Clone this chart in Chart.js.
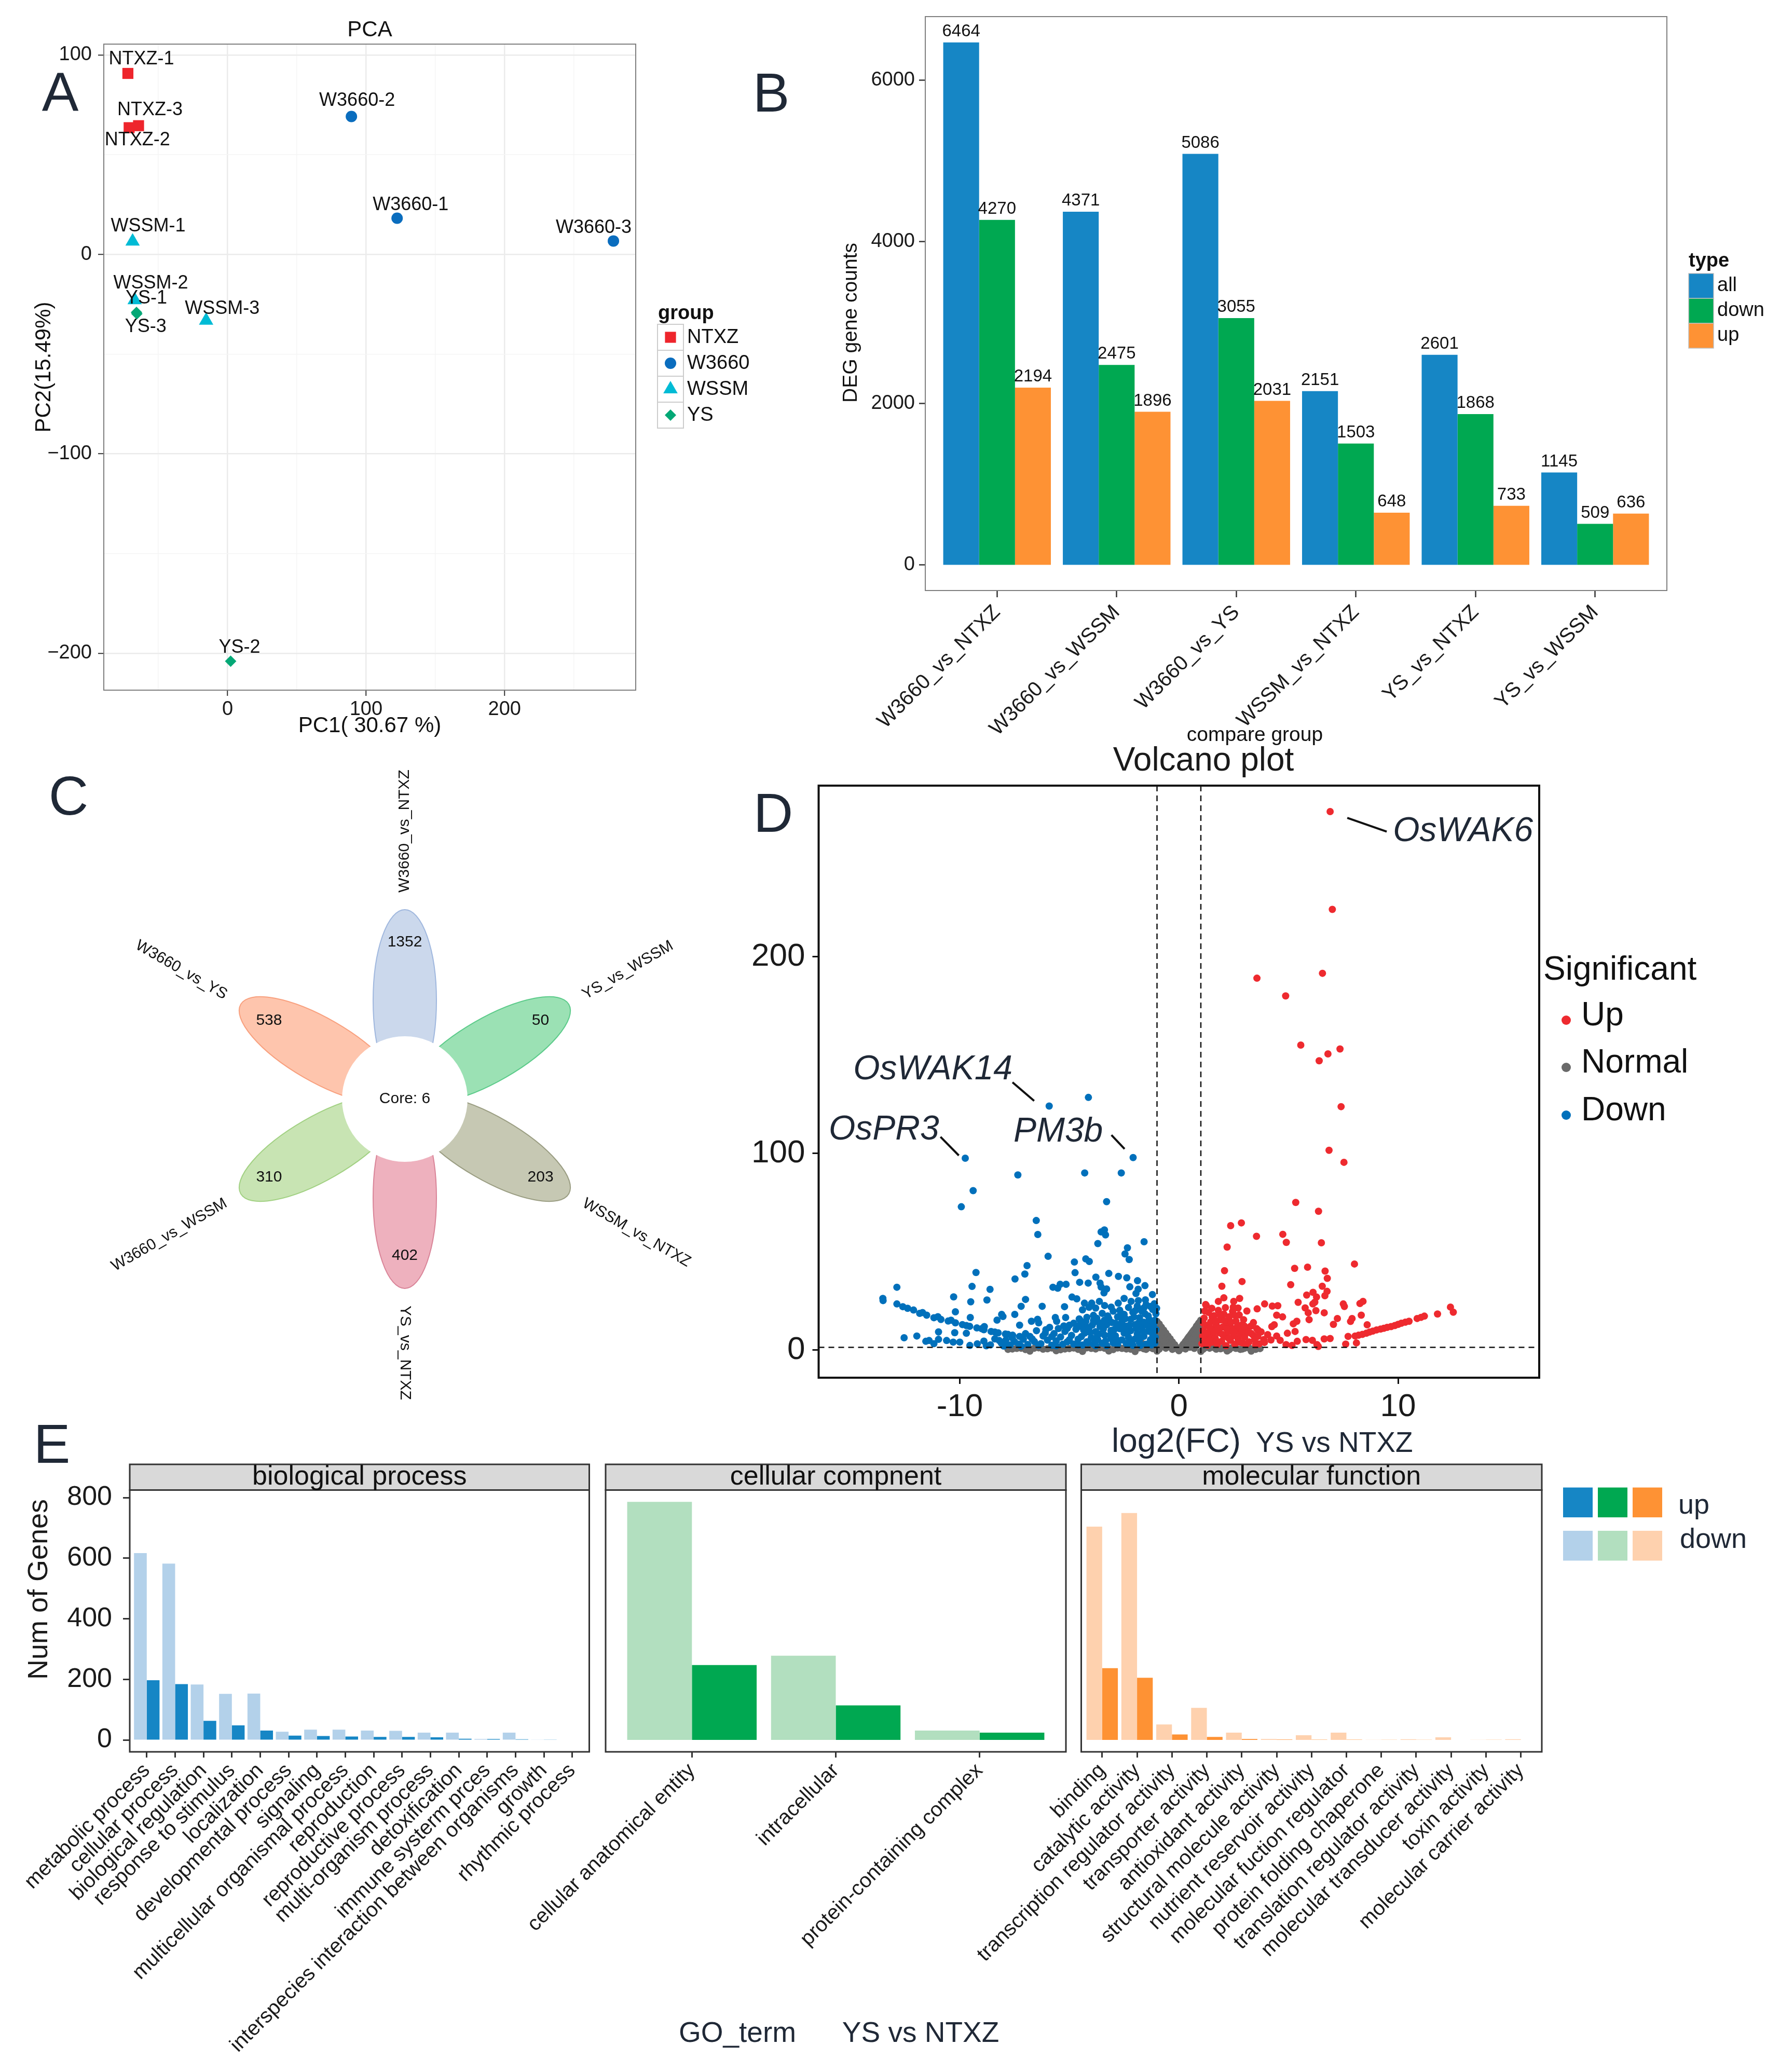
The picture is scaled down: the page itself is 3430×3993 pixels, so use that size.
<!DOCTYPE html>
<html>
<head>
<meta charset="utf-8">
<title>DEG overview</title>
<script src="https://cdn.jsdelivr.net/npm/chart.js@4.4.1/dist/chart.umd.min.js"></script>
<style>
  html, body { margin: 0; padding: 0; background: #fff; }
  #page { position: relative; width: 3430px; height: 3993px; overflow: hidden; background: #fff; }
  #page canvas { position: absolute; }
  .letter { position: absolute; font: 106px "Liberation Sans", Arial, sans-serif; color: #1f2836; line-height: 1; transform: translate(-50%, -50%); }
</style>
</head>
<body>
<div id="page">
  <div class="letter" style="left:116px;top:176px">A</div>
  <div class="letter" style="left:1486px;top:178px">B</div>
  <div class="letter" style="left:132px;top:1533px">C</div>
  <div class="letter" style="left:1490px;top:1566px">D</div>
  <div class="letter" style="left:100px;top:2782px">E</div>
</div>
<script>
// ---------------- data ----------------

// A: PCA
const pcaSamples = ['NTXZ-1', 'NTXZ-2', 'NTXZ-3', 'W3660-1', 'W3660-2', 'W3660-3', 'WSSM-1', 'WSSM-2', 'WSSM-3', 'YS-1', 'YS-2', 'YS-3'];
const pcaSampleGroup = ['NTXZ', 'NTXZ', 'NTXZ', 'W3660', 'W3660', 'W3660', 'WSSM', 'WSSM', 'WSSM', 'YS', 'YS', 'YS'];
const pc1 = [-72.0, -71.1, -64.3, 122.4, 89.4, 278.6, -68.6, -67.1, -15.5, -65.8, 2.2, -65.5];
const pc2 = [90.7, 63.5, 64.5, 18.1, 69.1, 6.7, 6.5, -22.9, -33.2, -29.1, -204.0, -29.8];
const pcaGroups = ['NTXZ', 'W3660', 'WSSM', 'YS'];
const pcaTicksX = [0, 100, 200];
const pcaTicksY = [-200, -100, 0, 100];
const pcaGridX = [-50, 0, 50, 100, 150, 200, 250];
const pcaGridY = [-200, -150, -100, -50, 0, 50, 100];

// B: DEG counts
const compareGroups = ['W3660_vs_NTXZ', 'W3660_vs_WSSM', 'W3660_vs_YS', 'WSSM_vs_NTXZ', 'YS_vs_NTXZ', 'YS_vs_WSSM'];
const degAll = [6464, 4371, 5086, 2151, 2601, 1145];
const degDown = [4270, 2475, 3055, 1503, 1868, 509];
const degUp = [2194, 1896, 2031, 648, 733, 636];
const degTicks = [0, 2000, 4000, 6000];

// C: flower plot
const flowerSets = ['W3660_vs_NTXZ', 'YS_vs_WSSM', 'WSSM_vs_NTXZ', 'YS_vs_NTXZ', 'W3660_vs_WSSM', 'W3660_vs_YS'];
const flowerCounts = [1352, 50, 203, 402, 310, 538];
const flowerCore = 6;

// D: volcano (log2FC, -log10 p)
const volcanoUp = [
  [6.9,273.7],[7.0,224],[3.56,189],[6.55,191.5],[4.87,180],[5.56,155],[7.35,153],[6.8,150.5],[6.4,147],[7.4,123.7],
  [6.85,101.5],[7.53,95.4],[5.33,75],[6.37,70.5],[2.85,64.6],[2.36,63.2],[3.54,57.8],[4.74,58.8],[4.9,54.7],[6.5,54.5],
  [2.2,52.3],[8.01,43.7],[2.08,40.3],[5.28,41.5],[5.87,42.1],[6.67,40.1],[6.77,36.4],[2.88,34.8],[5.1,33.2],[6.54,32.4],
  [1.96,32.4],[5.83,27.9],[6.12,29.3],[6.28,26.9],[6.2,24.3],[6.11,23.4],[6.76,29.8],[6.66,27.6],[5.44,24.2],[5.76,21.4],
  [5.9,18.9],[5.94,15.4],[6.25,20],[6.63,18.9],[7.5,23.4],[7.55,22.1],[8.26,23.6],[8.4,24.7],[8.32,17.7],[7.23,16],
  [7.05,13],[7.9,16],[7.83,14.5],[8.59,12.8],
  [7.72,6.9],[8.04,7.1],[8.37,7.9],[8.7,9.1],[9.02,10.2],[9.35,11],[9.68,11.9],[10.0,13],[10.33,14.1],[10.87,16],
  [11.2,17.2],[11.8,18.3],[12.39,21.8],[12.52,19.2],[8.2,7.5],[8.55,8.5],[8.85,9.6],[9.2,10.6],[9.5,11.5],[9.85,12.4],
  [10.15,13.6],[10.5,14.6],[11.05,16.6],
  [7.61,3],[8.1,3.6],[6.36,1.8],[6.3,2.7],[5.8,5.3],[6.09,4.9],[6.63,5.6],[6.9,5.8],[5.4,4.4],[4.89,2.7],
  [5.16,2.3],[4.46,7.1],[4.62,4.9],[4.95,8.5],[5.3,9.4],[5.38,14.6],[5.22,13.3],[4.24,11.9],[4.35,12.8],[4.46,17.7],
  [4.73,16.8],[4.51,22.5],[4.26,22.3],[3.91,23.4],[3.57,20.9],[3.1,19.8],[2.77,26.2],[2.5,24.7],[2.48,21.8],[2.12,21.5],
  [1.8,24.7],[2.05,26.5],[1.22,23.1],[3.61,10.1],[3.39,7.5],[3.05,9.7],[3.87,5.3],[3.66,3.1],
  [1.05,3.2],[1.1,9.8],[1.15,16.2],[1.2,5.6],[1.25,12.4],[1.3,2.4],[1.35,19.1],[1.4,7.7],[1.45,14.3],[1.5,3.9],
  [1.55,10.6],[1.6,17.4],[1.65,6.1],[1.7,12.9],[1.75,2.7],[1.8,20.1],[1.85,8.8],[1.9,15.3],[1.95,4.4],[2.0,11.7],
  [2.05,18.2],[2.1,6.8],[2.15,2.2],[2.2,13.8],[2.25,9.1],[2.3,16.9],[2.35,4.9],[2.4,11.2],[2.45,19.6],[2.5,7.3],
  [2.55,2.9],[2.6,14.7],[2.65,10.1],[2.7,5.5],[2.75,17.8],[2.8,8.2],[2.85,12.6],[2.9,3.6],[2.95,15.4],[3.0,6.5],
  [3.1,11.3],[3.2,4.1],[3.3,8.4],[3.4,13.9],[3.5,2.6],[3.6,6.9],[3.75,9.2],[3.9,3.8],[4.05,7.8],[4.2,5.1],
  [1.08,7.1],[1.12,13.5],[1.18,19.8],[1.28,8.8],[1.38,4.9],[1.42,11.4],[1.52,16.8],[1.62,9.3],[1.68,14.8],[1.72,4.5],
  [1.82,11.1],[1.88,17.7],[1.98,7.9],[2.08,14.9],[2.18,10.7],[2.28,5.8],[2.38,14.1],[2.48,9.5],[2.58,17.5],[2.68,12.4],
  [2.78,3.9],[2.88,9.9],[2.98,12.2],[3.08,2.9],[3.18,8.9],[3.28,12.1],[3.45,5.2],[3.55,10.8],[1.25,22.6],[1.5,21.2],
  [2.7,21.3]
];
const volcanoDown = [
  [-4.13,128.4],[-5.92,124],[-9.75,97.5],[-2.09,97.8],[-7.35,89],[-4.3,90],[-2.63,90],[-9.39,81],[-9.93,72.8],[-3.3,75.4],
  [-6.51,65.8],[-6.44,58.7],[-3.55,60],[-3.4,61],[-3.35,58.5],[-3.7,54.1],[-1.59,55],[-2.35,51.9],[-2.46,48.8],[-2.27,46],
  [-5.97,47.6],[-4.77,44.7],[-4.25,46.3],[-4.09,45],[-6.93,42.9],[-7.03,38.6],[-7.48,36.1],[-9.26,39.4],[-4.74,39.3],[-3.79,37],
  [-3.2,38.9],[-2.76,37.4],[-2.38,36.7],[-1.89,35.2],[-4.53,34.4],[-4.14,34],[-3.6,34],[-3.55,32],[-3.3,31],[-3.42,29],
  [-2.24,32.1],[-1.55,32.7],[-1.86,30.9],[-1.96,28.7],[-5.75,31.9],[-5.53,31.4],[-5.42,33.4],[-5.15,33.4],[-12.87,31.9],[-13.51,26.2],
  [-13.5,25.1],[-12.87,23.4],
  [-12.38,21.2],[-12.11,20.3],[-11.83,18.6],[-11.51,17.7],[-11.18,16.4],[-10.86,15.5],[-10.53,14.7],[-10.2,13.8],[-9.88,12.9],[-9.55,12.0],
  [-9.22,11.2],[-8.9,10.3],[-8.57,9.4],[-8.25,8.7],[-7.92,8.1],[-7.59,7.5],[-7.27,6.9],[-12.6,22],[-11.7,19],[-11.0,16.9],
  [-10.4,15.1],[-9.7,12.4],[-9.0,10.8],[-8.4,9.1],[-7.8,7.9],
  [-12.54,6.2],[-11.96,7.1],[-11.55,4.4],[-11.4,4.8],[-11.18,3.2],[-10.97,5.4],[-10.97,9.2],[-10.6,4.8],[-10.3,4],[-10.0,4],
  [-10.23,8.8],[-10.28,27],[-10.2,19.4],[-9.5,24.5],[-9.44,32.3],[-9.52,16.5],[-9.7,8.5],[-9.54,2.3],[-8.62,30.8],[-8.76,25.4],
  [-8.88,11.9],[-8.79,2.1],[-8.3,15.2],[-8.09,18.1],[-8.03,17],[-7.96,2.2],[-7.49,18.1],[-7.27,12.6],[-7.2,22.2],[-7.0,25.7],
  [-6.24,22.2],[-6.73,14.6],[-6.45,15.6],[-6.4,13.8],[-6.07,10.3],[-5.64,16.5],[-5.58,14.6],[-5.22,22],[-5.17,16.5],[-5.09,11],
  [-4.88,26.9],[-4.66,26],[-4.55,15.8],[-4.31,23.8],[-3.98,23.8],[-4.4,20.4],[-4.1,21.7],[-3.8,21.3],[-4.3,13.3],[-4.5,15],
  [-4.2,16.6],[-3.63,24.7],[-3.39,22.6],[-3.09,21.8],[-2.77,23.8],[-2.5,26.2],[-2.18,24.7],[-1.85,25.1],[-1.53,25.5],[-1.21,28.2],
  [-9.2,3.1],[-8.9,4.5],[-8.6,2.6],[-8.4,5.6],[-8.1,3.4],[-7.9,5.0],[-7.7,2.5],[-7.5,4.2],[-7.3,3.0],[-7.1,5.4],
  [-6.9,2.8],[-6.8,6.9],[-6.6,4.3],[-6.5,9.8],[-6.3,3.2],[-6.2,7.1],[-6.0,5.0],[-5.9,11.5],[-5.8,2.4],[-5.7,8.3],
  [-5.6,4.6],[-5.4,6.6],[-5.3,2.9],[-5.2,9.4],[-5.1,4.1],[-5.0,12.6],[-4.9,7.4],[-4.8,3.0],[-4.7,10.5],[-4.6,5.5],
  [-4.5,13.1],[-4.4,2.5],[-4.3,8.6],[-4.2,4.2],[-4.1,11.4],[-4.0,6.2],[-3.9,17.6],[-3.9,2.9],[-3.8,9.3],[-3.7,14.3],
  [-3.7,5.2],[-3.6,11.9],[-3.5,3.4],[-3.5,18.6],[-3.4,7.6],[-3.3,12.8],[-3.3,2.2],[-3.2,15.9],[-3.1,5.8],[-3.1,9.9],
  [-3.0,19.7],[-3.0,3.6],[-2.9,13.6],[-2.9,7.2],[-2.8,16.8],[-2.8,2.7],[-2.7,10.8],[-2.7,20.2],[-2.6,5.1],[-2.6,14.4],
  [-2.5,8.6],[-2.5,18.1],[-2.4,3.3],[-2.4,12.1],[-2.3,21.6],[-2.3,6.4],[-2.2,15.6],[-2.2,9.8],[-2.1,2.4],[-2.1,19.1],
  [-2.0,12.9],[-2.0,5.6],[-1.9,22.3],[-1.9,8.2],[-1.8,16.4],[-1.8,3.8],[-1.7,11.2],[-1.7,19.8],[-1.6,6.9],[-1.6,14.1],
  [-1.5,23.1],[-1.5,2.9],[-1.4,9.5],[-1.4,17.3],[-1.3,5.2],[-1.3,12.6],[-1.2,20.6],[-1.2,7.9],[-1.1,15.1],[-1.1,3.4],
  [-1.05,10.4],[-1.05,18.4],
  [-4.45,6.8],[-4.35,10.2],[-4.25,14.5],[-4.15,3.6],[-4.05,8.9],[-3.95,12.7],[-3.85,5.9],[-3.75,16.1],[-3.65,8.1],[-3.55,13.4],
  [-3.45,10.6],[-3.35,4.5],[-3.25,17.3],[-3.15,7.4],[-3.05,13.9],[-2.95,10.4],[-2.85,5.3],[-2.75,12.9],[-2.65,18.6],[-2.55,11.3],
  [-2.45,15.9],[-2.35,8.7],[-2.25,12.6],[-2.15,4.6],[-2.05,16.8],[-1.95,10.9],[-1.85,13.7],[-1.75,6.2],[-1.65,9.6],[-1.55,18.4],
  [-1.45,12.5],[-1.35,15.4],[-1.25,10.1],[-1.15,13.2],[-1.08,6.4],[-1.02,21.2],[-1.12,23.5],[-1.3,22.1],[-1.6,21.4],[-2.0,19.9],
  [-2.6,17.1],[-3.4,15.1],[-3.9,14.9],[-4.6,11.8],[-5.5,10.9],[-6.1,8.6],[-6.7,5.6],[-7.0,8.3],[-7.6,6.1],[-8.2,4.8],
  [-5.8,6.8],[-5.0,5.2],[-4.8,13.6],[-5.25,12.2],[-3.05,8.3],[-2.35,2.8],[-1.75,2.4],[-1.25,2.6],[-3.8,2.2],[-4.6,2.6],
  [-5.6,2.1],[-6.4,2.3],[-7.2,1.9],[-8.0,2.0]
];
const volcanoNormal = [
  [-1.0,14.5],[-0.95,12.6],[-0.9,13.2],[-0.85,10.4],[-0.8,11.6],[-0.75,8.7],[-0.7,10.1],[-0.65,7.3],[-0.6,8.6],[-0.55,6.2],
  [-0.5,7.1],[-0.45,4.9],[-0.4,5.7],[-0.35,3.8],[-0.3,4.1],[-0.25,2.6],[-0.2,2.7],[-0.15,1.6],[-0.1,1.2],[-0.05,0.5],
  [0,0.2],[-0.95,7.9],[-0.9,3.8],[-0.85,5.6],[-0.8,1.9],[-0.7,4.4],[-0.6,2.4],[-0.5,3.1],[-0.4,1.5],[-0.3,0.9],
  [0.05,0.6],[0.1,1.3],[0.15,2.1],[0.2,2.9],[0.25,3.4],[0.3,4.3],[0.35,5.0],[0.4,5.8],[0.45,6.6],[0.5,7.3],
  [0.55,8.0],[0.6,8.8],[0.65,9.6],[0.7,10.3],[0.75,11.0],[0.8,12.1],[0.85,12.7],[0.9,13.6],[0.95,14.2],[1.0,15.1],
  [0.95,8.1],[0.9,4.2],[0.85,6.5],[0.8,2.3],[0.7,5.2],[0.6,3.0],[0.5,1.4],[0.4,2.6],[0.3,1.1],
  [-7.8,0.3],[-7.4,0.8],[-7.0,0.2],[-6.6,0.9],[-6.2,0.4],[-5.8,1.0],[-5.4,0.1],[-5.0,0.7],[-4.6,0.3],[-4.2,1.1],
  [-3.8,0.5],[-3.4,0.9],[-3.0,0.2],[-2.6,0.8],[-2.2,0.4],[-1.8,1.1],[-1.5,0.3],[-1.2,0.7],[-0.9,0.4],[-0.6,0.9],
  [-0.3,0.3],[0.3,0.5],[0.7,0.8],[1.1,0.3],[1.4,0.9],[1.7,0.4],[2.0,1.0],[2.3,0.2],[2.6,0.8],[2.9,0.5],
  [3.2,1.0],[3.5,0.3],[3.7,0.7],[-6.8,-0.6],[-5.6,-0.4],[-4.4,-0.7],[-3.2,-0.5],[-2.0,-0.8],[-1.0,-0.6],[0.0,-0.4],
  [1.0,-0.7],[2.2,-0.5],[3.3,-0.6],[-1.4,2.6],[-1.7,3.5],[-2.4,2.0],[1.2,2.4],[1.5,3.1],
  [-7.6,0.5],[-7.2,0.9],[-6.8,0.4],[-6.4,1.1],[-6.0,0.6],[-5.6,1.2],[-5.2,0.5],[-4.8,1.0],[-4.4,0.4],[-4.0,0.8],
  [-3.6,1.2],[-3.2,0.6],[-2.8,1.0],[-2.4,0.5],[-2.0,0.9],[-1.6,0.6],[-1.3,1.2],[-1.1,1.0],[1.2,1.1],[1.6,1.2],
  [1.9,0.6],[2.4,1.1],[2.8,0.3],[3.0,0.9],[3.4,0.6],[3.6,1.1],[-0.95,10.2],[-0.85,8.0],[-0.75,5.8],[-0.65,4.4],
  [-0.55,2.9],[0.55,3.2],[0.65,6.0],[0.75,7.9],[0.85,9.6],[0.95,11.3],[-0.2,0.8],[0.2,0.9],[-0.45,2.2],[0.45,2.4]
];
const geneNames = ['OsWAK6', 'OsWAK14', 'OsPR3', 'PM3b'];
const geneX = [6.9, -5.92, -9.75, -2.09];
const geneY = [273.7, 124, 97.5, 97.8];
const volcanoTicksX = [-10, 0, 10];
const volcanoTicksY = [0, 100, 200];
const fcCut = 1;
const pCut = 1.3;

// E: GO terms
const bioTerms = ['metabolic process', 'cellular process', 'biological regulation', 'response to stimulus', 'localization',
  'developmental process', 'signaling', 'multicellular organismal process', 'reproduction', 'reproductive process',
  'multi-organism process', 'detoxification', 'immune systerm prces', 'interspecies interaction between organisms',
  'growth', 'rhythmic process'];
const bioDown = [617, 582, 183, 152, 153, 27, 34, 34, 31, 30, 24, 24, 3, 24, 1.5, 1];
const bioUp = [197, 184, 63, 48, 31, 14, 13, 11, 10, 10, 8.5, 4, 3, 2, 1.5, 1];
const cellTerms = ['cellular anatomical entity', 'intracellular', 'protein-containing complex'];
const cellDown = [786, 278, 31];
const cellUp = [247, 114, 24];
const molTerms = ['binding', 'catalytic activity', 'transcription regulator activity', 'transporter activity',
  'antioxidant activity', 'structural molecule activity', 'nutrient reservoir activity', 'molecular fuction regulator',
  'protein folding chaperone', 'translation regulator activity', 'molecular transducer activity', 'toxin activity',
  'molecular carrier activity'];
const molDown = [704, 749, 51, 106, 24, 3, 15.5, 24, 0.5, 2, 8.5, 0.5, 2];
const molUp = [237, 205, 18, 10, 3, 1.5, 1, 1, 0.5, 0.5, 0, 0.5, 0];
const goTicks = [0, 200, 400, 600, 800];

// ---------------- helpers ----------------
const FONT = '"Liberation Sans", Arial, Helvetica, sans-serif';
Chart.defaults.font.family = FONT;
Chart.defaults.color = '#1a1a1a';

function f(size, extra) {
  return (extra ? extra + ' ' : '') + size + 'px ' + FONT;
}

function drawText(ctx, str, x, y, o) {
  ctx.save();
  ctx.font = o.font;
  ctx.fillStyle = o.color || '#1a1a1a';
  ctx.textAlign = o.align || 'center';
  ctx.textBaseline = o.baseline || 'middle';
  ctx.translate(x, y);
  if (o.rot) ctx.rotate(o.rot * Math.PI / 180);
  ctx.fillText(str, 0, 0);
  ctx.restore();
}

function addCanvas(id, left, top, w, h) {
  const c = document.createElement('canvas');
  c.id = id;
  c.width = w;
  c.height = h;
  c.style.left = left + 'px';
  c.style.top = top + 'px';
  c.style.width = w + 'px';
  c.style.height = h + 'px';
  document.getElementById('page').appendChild(c);
  return c;
}

function baseOptions(pad) {
  return {
    responsive: false,
    animation: false,
    devicePixelRatio: 1,
    events: [],
    layout: { padding: pad },
    plugins: { legend: { display: false }, tooltip: { enabled: false } }
  };
}

function frame(color, width) {
  return {
    id: 'frame',
    afterDatasetsDraw(chart) {
      const a = chart.chartArea, ctx = chart.ctx;
      ctx.save();
      ctx.strokeStyle = color;
      ctx.lineWidth = width;
      ctx.strokeRect(a.left, a.top, a.right - a.left, a.bottom - a.top);
      ctx.restore();
    }
  };
}

const minus = v => (v < 0 ? '\u2212' + Math.abs(v) : String(v));
const rad = d => d * Math.PI / 180;

// ---------------- A: PCA ----------------
const pcaStyle = {
  NTXZ: { shape: 'rect', r: 15, color: '#EE252C' },
  W3660: { shape: 'circle', r: 11, color: '#0A6DBE' },
  WSSM: { shape: 'triangle', r: 16, color: '#00BBD5' },
  YS: { shape: 'rectRot', r: 11, color: '#03A876' }
};
const pcaLabelShift = {
  'NTXZ-1': [26, -27], 'NTXZ-2': [16, 24], 'NTXZ-3': [22, -30],
  'W3660-1': [26, -25], 'W3660-2': [11, -30], 'W3660-3': [-38, -25],
  'WSSM-1': [30, -29], 'WSSM-2': [31, -32], 'WSSM-3': [31, -23],
  'YS-1': [19, -27], 'YS-2': [17, -26], 'YS-3': [17, 25]
};

const pcaDecor = {
  id: 'pcaDecor',
  afterDatasetsDraw(chart) {
    const ctx = chart.ctx;
    chart.data.datasets.forEach((ds, d) => {
      chart.getDatasetMeta(d).data.forEach((pt, i) => {
        const name = ds.data[i].name;
        const s = pcaLabelShift[name];
        drawText(ctx, name, pt.x + s[0], pt.y + s[1], { font: f(36), color: '#111' });
      });
    });
    const a = chart.chartArea;
    ctx.save();
    ctx.strokeStyle = '#7F7F7F';
    ctx.lineWidth = 2;
    ctx.strokeRect(a.left, a.top, a.right - a.left, a.bottom - a.top);
    ctx.restore();
    drawText(ctx, 'PCA', (a.left + a.right) / 2, 58, { font: f(42), color: '#111' });
    drawText(ctx, 'PC1( 30.67 %)', (a.left + a.right) / 2, 1399, { font: f(42), color: '#111' });
    drawText(ctx, 'PC2(15.49%)', 85, (a.top + a.bottom) / 2, { font: f(42), color: '#111', rot: -90 });
    // legend
    drawText(ctx, 'group', 1268, 605, { font: f(38, 'bold'), color: '#111', align: 'left' });
    pcaGroups.forEach((g, i) => {
      const top = 625 + 50 * i;
      ctx.save();
      ctx.fillStyle = '#fff';
      ctx.fillRect(1267, top, 50, 50);
      ctx.strokeStyle = '#CCCCCC';
      ctx.lineWidth = 2;
      ctx.strokeRect(1267, top, 50, 50);
      ctx.fillStyle = pcaStyle[g].color;
      Chart.helpers.drawPoint(ctx, { pointStyle: pcaStyle[g].shape, radius: pcaStyle[g].r, rotation: 0, borderWidth: 0 }, 1292, top + 25);
      ctx.restore();
      drawText(ctx, g, 1324, top + 26, { font: f(38), color: '#111', align: 'left' });
    });
  }
};

new Chart(addCanvas('pca', 0, 0, 1530, 1450), {
  type: 'scatter',
  data: {
    datasets: pcaGroups.map(g => ({
      label: g,
      data: pcaSamples.map((s, i) => ({ x: pc1[i], y: pc2[i], name: s, group: pcaSampleGroup[i] })).filter(p => p.group === g),
      pointStyle: pcaStyle[g].shape,
      pointRadius: pcaStyle[g].r,
      pointBorderWidth: 0,
      backgroundColor: pcaStyle[g].color
    }))
  },
  options: Object.assign(baseOptions({ left: 0, top: 85, right: 305, bottom: 0 }), {
    scales: {
      x: {
        type: 'linear', min: -89.4, max: 294.7,
        afterBuildTicks: s => { s.ticks = pcaGridX.map(v => ({ value: v })); },
        afterFit: s => { s.height = 120; s.paddingLeft = 0; s.paddingRight = 0; },
        ticks: { autoSkip: false, maxRotation: 0, padding: 4, font: { size: 38 }, color: '#1a1a1a',
          callback: v => (pcaTicksX.includes(v) ? minus(v) : '') },
        grid: {
          color: c => (pcaTicksX.includes(c.tick.value) ? '#EBEBEB' : '#F5F5F5'),
          lineWidth: c => (pcaTicksX.includes(c.tick.value) ? 2.5 : 1.5),
          tickColor: c => (pcaTicksX.includes(c.tick.value) ? '#333' : 'rgba(0,0,0,0)'),
          tickLength: 11, tickWidth: 2
        },
        border: { display: false }
      },
      y: {
        type: 'linear', min: -218.5, max: 105.4,
        afterBuildTicks: s => { s.ticks = pcaGridY.map(v => ({ value: v })); },
        afterFit: s => { s.width = 200; s.paddingTop = 0; s.paddingBottom = 0; },
        ticks: { autoSkip: false, padding: 12, font: { size: 38 }, color: '#1a1a1a',
          callback: v => (pcaTicksY.includes(v) ? minus(v) : '') },
        grid: {
          color: c => (pcaTicksY.includes(c.tick.value) ? '#EBEBEB' : '#F5F5F5'),
          lineWidth: c => (pcaTicksY.includes(c.tick.value) ? 2.5 : 1.5),
          tickColor: c => (pcaTicksY.includes(c.tick.value) ? '#333' : 'rgba(0,0,0,0)'),
          tickLength: 11, tickWidth: 2
        },
        border: { display: false }
      }
    }
  }),
  plugins: [pcaDecor]
});

// ---------------- B: DEG counts ----------------
const degColors = { all: '#1686C5', down: '#00A851', up: '#FE9234' };

const degDecor = {
  id: 'degDecor',
  afterDatasetsDraw(chart) {
    const ctx = chart.ctx;
    chart.data.datasets.forEach((ds, d) => {
      chart.getDatasetMeta(d).data.forEach((bar, i) => {
        drawText(ctx, String(ds.data[i].y), bar.x, bar.y - 12, { font: f(33), color: '#111', baseline: 'alphabetic' });
      });
    });
    drawText(ctx, 'compare group', 868, 1417, { font: f(39), color: '#111' });
    drawText(ctx, 'DEG gene counts', 90, 622, { font: f(39), color: '#111', rot: -90 });
    drawText(ctx, 'type', 1704, 504, { font: f(38, 'bold'), color: '#111', align: 'left' });
    ['all', 'down', 'up'].forEach((k, i) => {
      const top = 527 + 48 * i;
      ctx.save();
      ctx.fillStyle = degColors[k];
      ctx.fillRect(1704, top, 48, 48);
      ctx.strokeStyle = '#BFBFBF';
      ctx.lineWidth = 1.5;
      ctx.strokeRect(1704, top, 48, 48);
      ctx.restore();
      drawText(ctx, k, 1759, top + 24, { font: f(38), color: '#111', align: 'left' });
    });
  }
};

new Chart(addCanvas('deg', 1550, 0, 1880, 1450), {
  type: 'bar',
  data: {
    datasets: [
      { label: 'all', data: degAll.map((v, i) => ({ x: i + 1, y: v })), backgroundColor: degColors.all },
      { label: 'down', data: degDown.map((v, i) => ({ x: i + 1, y: v })), backgroundColor: degColors.down },
      { label: 'up', data: degUp.map((v, i) => ({ x: i + 1, y: v })), backgroundColor: degColors.up }
    ].map(ds => Object.assign(ds, { categoryPercentage: 0.9, barPercentage: 1 }))
  },
  options: Object.assign(baseOptions({ left: 0, top: 32, right: 218, bottom: 0 }), {
    scales: {
      x: {
        type: 'linear', offset: false, min: 0.4, max: compareGroups.length + 0.6,
        afterBuildTicks: s => { s.ticks = compareGroups.map((g, i) => ({ value: i + 1 })); },
        afterFit: s => { s.height = 312; s.paddingLeft = 0; s.paddingRight = 0; },
        ticks: { autoSkip: false, minRotation: 45, maxRotation: 45, padding: 6, font: { size: 40 }, color: '#1a1a1a',
          callback: v => compareGroups[v - 1] },
        grid: { drawOnChartArea: false, offset: false, tickLength: 13, tickColor: '#333', tickWidth: 2.5 },
        border: { display: false }
      },
      y: {
        type: 'linear', min: -315, max: 6784,
        afterBuildTicks: s => { s.ticks = degTicks.map(v => ({ value: v })); },
        afterFit: s => { s.width = 233; s.paddingTop = 0; s.paddingBottom = 0; },
        ticks: { padding: 8, font: { size: 38 }, color: '#1a1a1a', callback: v => String(v) },
        grid: { drawOnChartArea: false, tickLength: 12, tickColor: '#333', tickWidth: 2.5 },
        border: { display: false }
      }
    }
  }),
  plugins: [frame('#7F7F7F', 2), degDecor]
});

// ---------------- C: flower ----------------
const flowerStyle = {
  angles: [90, 30, -30, -90, -150, 150],
  fills: ['#CBD8EC', '#9BE1B4', '#C6C8B3', '#EEB1BE', '#C8E4B3', '#FEC5AD'],
  strokes: ['#9FB7DE', '#5CCB8A', '#9A9D82', '#D98498', '#A2D183', '#F8A07E'],
  petalCenter: 190, petalA: 175, petalB: 61, coreR: 121, countDist: 302, labelDist: 398
};

const flowerDecor = {
  id: 'flowerDecor',
  beforeDatasetsDraw(chart) {
    const { ctx, scales: { x, y } } = chart;
    const unit = Math.abs(x.getPixelForValue(1) - x.getPixelForValue(0));
    flowerSets.forEach((s, i) => {
      const t = rad(flowerStyle.angles[i]);
      const px = x.getPixelForValue(flowerStyle.petalCenter * Math.cos(t));
      const py = y.getPixelForValue(flowerStyle.petalCenter * Math.sin(t));
      ctx.save();
      ctx.beginPath();
      ctx.ellipse(px, py, flowerStyle.petalA * unit, flowerStyle.petalB * unit, -t, 0, 2 * Math.PI);
      ctx.fillStyle = flowerStyle.fills[i];
      ctx.fill();
      ctx.strokeStyle = flowerStyle.strokes[i];
      ctx.lineWidth = 2;
      ctx.stroke();
      ctx.restore();
    });
    ctx.save();
    ctx.beginPath();
    ctx.arc(x.getPixelForValue(0), y.getPixelForValue(0), flowerStyle.coreR * unit, 0, 2 * Math.PI);
    ctx.fillStyle = '#fff';
    ctx.fill();
    ctx.restore();
  },
  afterDatasetsDraw(chart) {
    const { ctx, scales: { x, y } } = chart;
    chart.getDatasetMeta(0).data.forEach((pt, i) => {
      drawText(ctx, String(flowerCounts[i]), pt.x, pt.y, { font: f(30), color: '#111' });
    });
    drawText(ctx, 'Core: ' + flowerCore, x.getPixelForValue(0), y.getPixelForValue(0), { font: f(30), color: '#111' });
    flowerSets.forEach((s, i) => {
      const ang = flowerStyle.angles[i];
      const t = rad(ang);
      let rot = -ang;
      if (rot > 90) rot -= 180;
      if (rot < -90) rot += 180;
      drawText(ctx, s, x.getPixelForValue(flowerStyle.labelDist * Math.cos(t)), y.getPixelForValue(flowerStyle.labelDist * Math.sin(t)),
        { font: f(30), color: '#111', rot: rot, align: Math.cos(t) > -0.01 ? 'left' : 'right' });
    });
  }
};

new Chart(addCanvas('flower', 0, 1450, 1450, 1250), {
  type: 'scatter',
  data: {
    datasets: [{
      data: flowerCounts.map((c, i) => ({
        x: flowerStyle.countDist * Math.cos(rad(flowerStyle.angles[i])),
        y: flowerStyle.countDist * Math.sin(rad(flowerStyle.angles[i]))
      })),
      pointRadius: 0
    }]
  },
  options: Object.assign(baseOptions(0), {
    scales: {
      x: { type: 'linear', display: false, min: -780, max: 670 },
      y: { type: 'linear', display: false, min: -582, max: 668 }
    }
  }),
  plugins: [flowerDecor]
});

// ---------------- D: volcano ----------------
const sigColors = { Up: '#EE2A2F', Normal: '#6A6A6A', Down: '#0070BB' };
const geneLabelStyle = [
  { line: [33, 12, 109, 38.5], text: [121, 38.5], align: 'left' },
  { line: [-70.7, -45.7, -29, -10], text: [-70.7, -69.8], align: 'right' },
  { line: [-47.7, -41, -12.4, -5.2], text: [-50.3, -54.3], align: 'right' },
  { line: [-41.8, -43.4, -16.5, -16.6], text: [-58.2, -48.8], align: 'right' }
];

const volcanoDecor = {
  id: 'volcanoDecor',
  afterDatasetsDraw(chart) {
    const { ctx, chartArea: a, scales: { x, y } } = chart;
    ctx.save();
    ctx.strokeStyle = '#111';
    ctx.lineWidth = 2.5;
    ctx.setLineDash([11, 8]);
    [-fcCut, fcCut].forEach(v => {
      const px = x.getPixelForValue(v);
      ctx.beginPath(); ctx.moveTo(px, a.top); ctx.lineTo(px, a.bottom); ctx.stroke();
    });
    const py = y.getPixelForValue(pCut);
    ctx.beginPath(); ctx.moveTo(a.left, py); ctx.lineTo(a.right, py); ctx.stroke();
    ctx.setLineDash([]);
    ctx.lineWidth = 4;
    ctx.strokeRect(a.left, a.top, a.right - a.left, a.bottom - a.top);
    // gene annotations
    geneNames.forEach((g, i) => {
      const gx = x.getPixelForValue(geneX[i]), gy = y.getPixelForValue(geneY[i]);
      const st = geneLabelStyle[i];
      ctx.beginPath();
      ctx.moveTo(gx + st.line[0], gy + st.line[1]);
      ctx.lineTo(gx + st.line[2], gy + st.line[3]);
      ctx.lineWidth = 4;
      ctx.strokeStyle = '#111';
      ctx.stroke();
      drawText(ctx, g, gx + st.text[0], gy + st.text[1], { font: f(66, 'italic'), color: '#1f2836', align: st.align });
    });
    ctx.restore();
    drawText(ctx, 'Volcano plot', 899, 67, { font: f(64), color: '#1a1a1a' });
    drawText(ctx, 'log2(FC)', 722, 1398, { font: f(64), color: '#1f2836', align: 'left', baseline: 'alphabetic' });
    drawText(ctx, 'YS vs NTXZ', 1000, 1398, { font: f(55), color: '#1f2836', align: 'left', baseline: 'alphabetic' });
    drawText(ctx, 'Significant', 1554, 470, { font: f(64), color: '#111', align: 'left' });
    const items = ['Up', 'Normal', 'Down'];
    const dotY = [566, 657, 749];
    items.forEach((k, i) => {
      ctx.save();
      ctx.beginPath();
      ctx.arc(1598, dotY[i], 9, 0, 2 * Math.PI);
      ctx.fillStyle = sigColors[k];
      ctx.fill();
      ctx.restore();
      drawText(ctx, k, 1627, dotY[i] - 8, { font: f(64), color: '#111', align: 'left' });
    });
  }
};

const toPts = arr => arr.map(p => ({ x: p[0], y: p[1] }));

new Chart(addCanvas('volcano', 1420, 1400, 2010, 1450), {
  type: 'scatter',
  data: {
    datasets: [
      { label: 'Up', data: toPts(volcanoUp), backgroundColor: sigColors.Up },
      { label: 'Down', data: toPts(volcanoDown), backgroundColor: sigColors.Down },
      { label: 'Normal', data: toPts(volcanoNormal), backgroundColor: sigColors.Normal }
    ].map(ds => Object.assign(ds, { pointRadius: 7, pointBorderWidth: 0 }))
  },
  options: Object.assign(baseOptions({ left: 0, top: 114, right: 464, bottom: 0 }), {
    scales: {
      x: {
        type: 'linear', min: -16.44, max: 16.44,
        afterBuildTicks: s => { s.ticks = volcanoTicksX.map(v => ({ value: v })); },
        afterFit: s => { s.height = 195; s.paddingLeft = 0; s.paddingRight = 0; },
        ticks: { autoSkip: false, maxRotation: 0, padding: 8, font: { size: 62 }, color: '#1a1a1a', callback: v => String(v) },
        grid: { drawOnChartArea: false, tickLength: 12, tickColor: '#111', tickWidth: 3 },
        border: { display: false }
      },
      y: {
        type: 'linear', min: -14.1, max: 286.9,
        afterBuildTicks: s => { s.ticks = volcanoTicksY.map(v => ({ value: v })); },
        afterFit: s => { s.width = 157.5; s.paddingTop = 0; s.paddingBottom = 0; },
        ticks: { padding: 14, font: { size: 62 }, color: '#1a1a1a' },
        grid: { drawOnChartArea: false, tickLength: 12, tickColor: '#111', tickWidth: 3 },
        border: { display: false }
      }
    }
  }),
  plugins: [volcanoDecor]
});

// ---------------- E: GO bars ----------------
const goColors = {
  bio: ['#1686C5', '#B3D1EA'],
  cell: ['#00A851', '#B2DFBF'],
  mol: ['#FE9234', '#FED1AE']
};

function goDecor(title, extra) {
  return {
    id: 'goDecor',
    afterDatasetsDraw(chart) {
      const { ctx, chartArea: a } = chart;
      ctx.save();
      ctx.fillStyle = '#D9D9D9';
      ctx.fillRect(a.left, a.top - 49.5, a.right - a.left, 49.5);
      ctx.strokeStyle = '#333';
      ctx.lineWidth = 3;
      ctx.strokeRect(a.left, a.top - 49.5, a.right - a.left, 49.5);
      ctx.strokeRect(a.left, a.top, a.right - a.left, a.bottom - a.top);
      ctx.restore();
      drawText(ctx, title, (a.left + a.right) / 2, a.top - 25, { font: f(52), color: '#111' });
      if (extra) extra(ctx, a);
    }
  };
}

function goChart(id, left, width, areaLeft, areaRight, terms, down, up, colors, title, showY, extra) {
  return new Chart(addCanvas(id, left, 2800, width, 1193), {
    type: 'bar',
    data: {
      datasets: [
        { label: 'down', data: down.map((v, i) => ({ x: i + 1, y: v })), backgroundColor: colors[1] },
        { label: 'up', data: up.map((v, i) => ({ x: i + 1, y: v })), backgroundColor: colors[0] }
      ].map(ds => Object.assign(ds, { categoryPercentage: 0.9, barPercentage: 1 }))
    },
    options: Object.assign(baseOptions({ left: showY ? 0 : areaLeft, top: 71.5, right: width - areaRight, bottom: 0 }), {
      scales: {
        x: {
          type: 'linear', offset: false, min: 0.4, max: terms.length + 0.6,
          afterBuildTicks: s => { s.ticks = terms.map((t, i) => ({ value: i + 1 })); },
          afterFit: s => { s.height = 617; s.paddingLeft = 0; s.paddingRight = 0; },
          ticks: { autoSkip: false, minRotation: 45, maxRotation: 45, padding: 2, font: { size: 40 }, color: '#1a1a1a',
            callback: v => terms[v - 1] },
          grid: { drawOnChartArea: false, offset: false, tickLength: 11, tickColor: '#333', tickWidth: 3 },
          border: { display: false }
        },
        y: {
          type: 'linear', display: showY, min: -39.4, max: 825,
          afterBuildTicks: s => { s.ticks = goTicks.map(v => ({ value: v })); },
          afterFit: s => { if (showY) s.width = areaLeft; s.paddingTop = 0; s.paddingBottom = 0; },
          ticks: { padding: 21, font: { size: 52 }, color: '#1a1a1a' },
          grid: { drawOnChartArea: false, tickLength: 13, tickColor: '#333', tickWidth: 3 },
          border: { display: false }
        }
      }
    }),
    plugins: [goDecor(title, extra)]
  });
}

goChart('goBio', 0, 1160, 250, 1135.5, bioTerms, bioDown, bioUp, goColors.bio, 'biological process', true,
  ctx => drawText(ctx, 'Num of Genes', 76.5, 263, { font: f(54), color: '#1a1a1a', rot: -90 }));

goChart('goCell', 950, 1125, 217, 1104, cellTerms, cellDown, cellUp, goColors.cell, 'cellular compnent', false,
  ctx => {
    drawText(ctx, 'GO_term', 471, 1120, { font: f(55), color: '#1f2836' });
    drawText(ctx, 'YS vs NTXZ', 824, 1120, { font: f(55), color: '#1f2836' });
  });

goChart('goMol', 1850, 1580, 233.5, 1121, molTerms, molDown, molUp, goColors.mol, 'molecular function', false,
  ctx => {
    const xs = [1162, 1229, 1296];
    ['bio', 'cell', 'mol'].forEach((k, i) => {
      ctx.fillStyle = goColors[k][0];
      ctx.fillRect(xs[i], 66.6, 57, 57.5);
      ctx.fillStyle = goColors[k][1];
      ctx.fillRect(xs[i], 150, 57, 57.5);
    });
    drawText(ctx, 'up', 1384, 102, { font: f(54), color: '#1f2836', align: 'left' });
    drawText(ctx, 'down', 1387, 168, { font: f(54), color: '#1f2836', align: 'left' });
  });
</script>
</body>
</html>
